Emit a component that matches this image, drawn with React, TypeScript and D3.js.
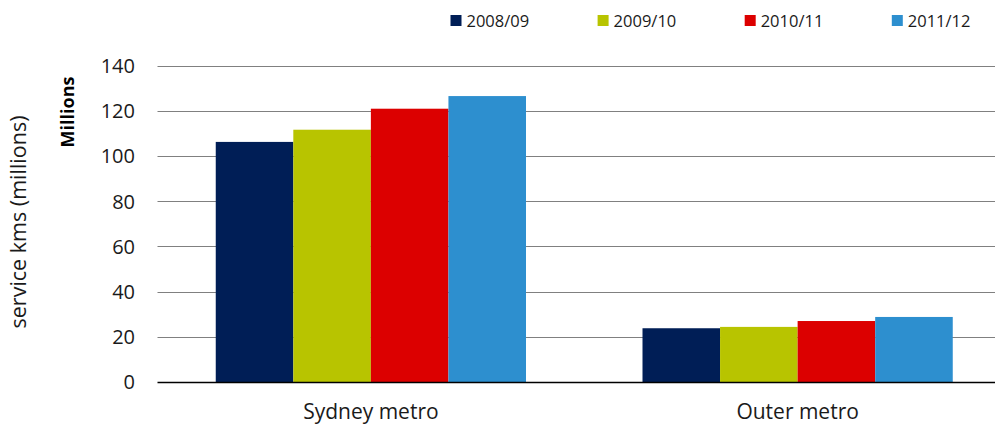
import React from "react";
import * as d3 from "d3";

const categories = ["Sydney metro", "Outer metro"];
const years = ["2008/09", "2009/10", "2010/11", "2011/12"];
const sydneyValues = [106.3, 111.7, 121.0, 126.6];
const outerValues = [23.8, 24.4, 27.0, 28.8];
const yTicks = [0, 20, 40, 60, 80, 100, 120, 140];
const colors = ["#001e56", "#b8c400", "#dc0000", "#2d8fcf"];

const W = 995;
const H = 426;
const FONT = "'Open Sans', 'Liberation Sans', sans-serif";

export default function App() {
  const seriesByCategory = [sydneyValues, outerValues];

  const plotLeft = 157.5;
  const plotRight = 1011;
  const lineRight = 995;

  const x0 = d3.scaleBand<string>().domain(categories).range([plotLeft, plotRight]).padding(0);
  const groupWidth = x0.bandwidth() * 0.727;
  const x1 = d3
    .scaleBand<string>()
    .domain(years)
    .range([0, groupWidth])
    .padding(0);

  const y = d3.scaleLinear().domain([0, 140]).range([382, 65.8]);

  return (
    <svg width={W} height={H} style={{ position: "absolute", left: 0, top: 0 }} fontFamily={FONT}>
      {/* gridlines */}
      {yTicks.filter((t) => t > 0).map((t) => (
        <line key={t} x1={plotLeft} x2={lineRight} y1={Math.round(y(t)) + 0.5} y2={Math.round(y(t)) + 0.5} stroke="#808080" strokeWidth={1.2} />
      ))}
      {/* y tick labels */}
      {yTicks.map((t) => (
        <text key={t} x={135} y={y(t)} dy="0.36em" textAnchor="end" fontSize={20} fill="#1a1a1a">
          {t}
        </text>
      ))}
      {/* bars */}
      {categories.map((c, ci) => {
        const gx = (x0(c) as number) + (x0.bandwidth() - groupWidth) / 2;
        return (
          <g key={c} transform={`translate(${gx},0)`}>
            {years.map((yr, si) => {
              const v = seriesByCategory[ci][si];
              return (
                <rect key={yr} x={x1(yr)} y={y(v)} width={x1.bandwidth()} height={y(0) - y(v)} fill={colors[si]} />
              );
            })}
          </g>
        );
      })}
      {/* x axis */}
      <line x1={plotLeft} x2={lineRight} y1={382.5} y2={382.5} stroke="#000" strokeWidth={1.5} />
      {/* category labels */}
      {categories.map((c) => (
        <text key={c} x={(x0(c) as number) + x0.bandwidth() / 2} y={419} textAnchor="middle" fontSize={21} fill="#1a1a1a">
          {c}
        </text>
      ))}
      {/* axis titles */}
      <text transform="translate(26,222) rotate(-90)" textAnchor="middle" fontSize={21.5} fill="#1a1a1a">
        service kms (millions)
      </text>
      <text transform="translate(73.5,112) rotate(-90)" textAnchor="middle" fontSize={18} fontWeight="bold" fill="#000">
        Millions
      </text>
      {/* legend */}
      {years.map((yr, i) => {
        const lx = 450.5 + i * 147.1;
        return (
          <g key={yr}>
            <rect x={lx} y={15} width={11} height={11} fill={colors[i]} />
            <text x={lx + 16} y={26.5} fontSize={16.5} fill="#1a1a1a">
              {yr}
            </text>
          </g>
        );
      })}
    </svg>
  );
}
